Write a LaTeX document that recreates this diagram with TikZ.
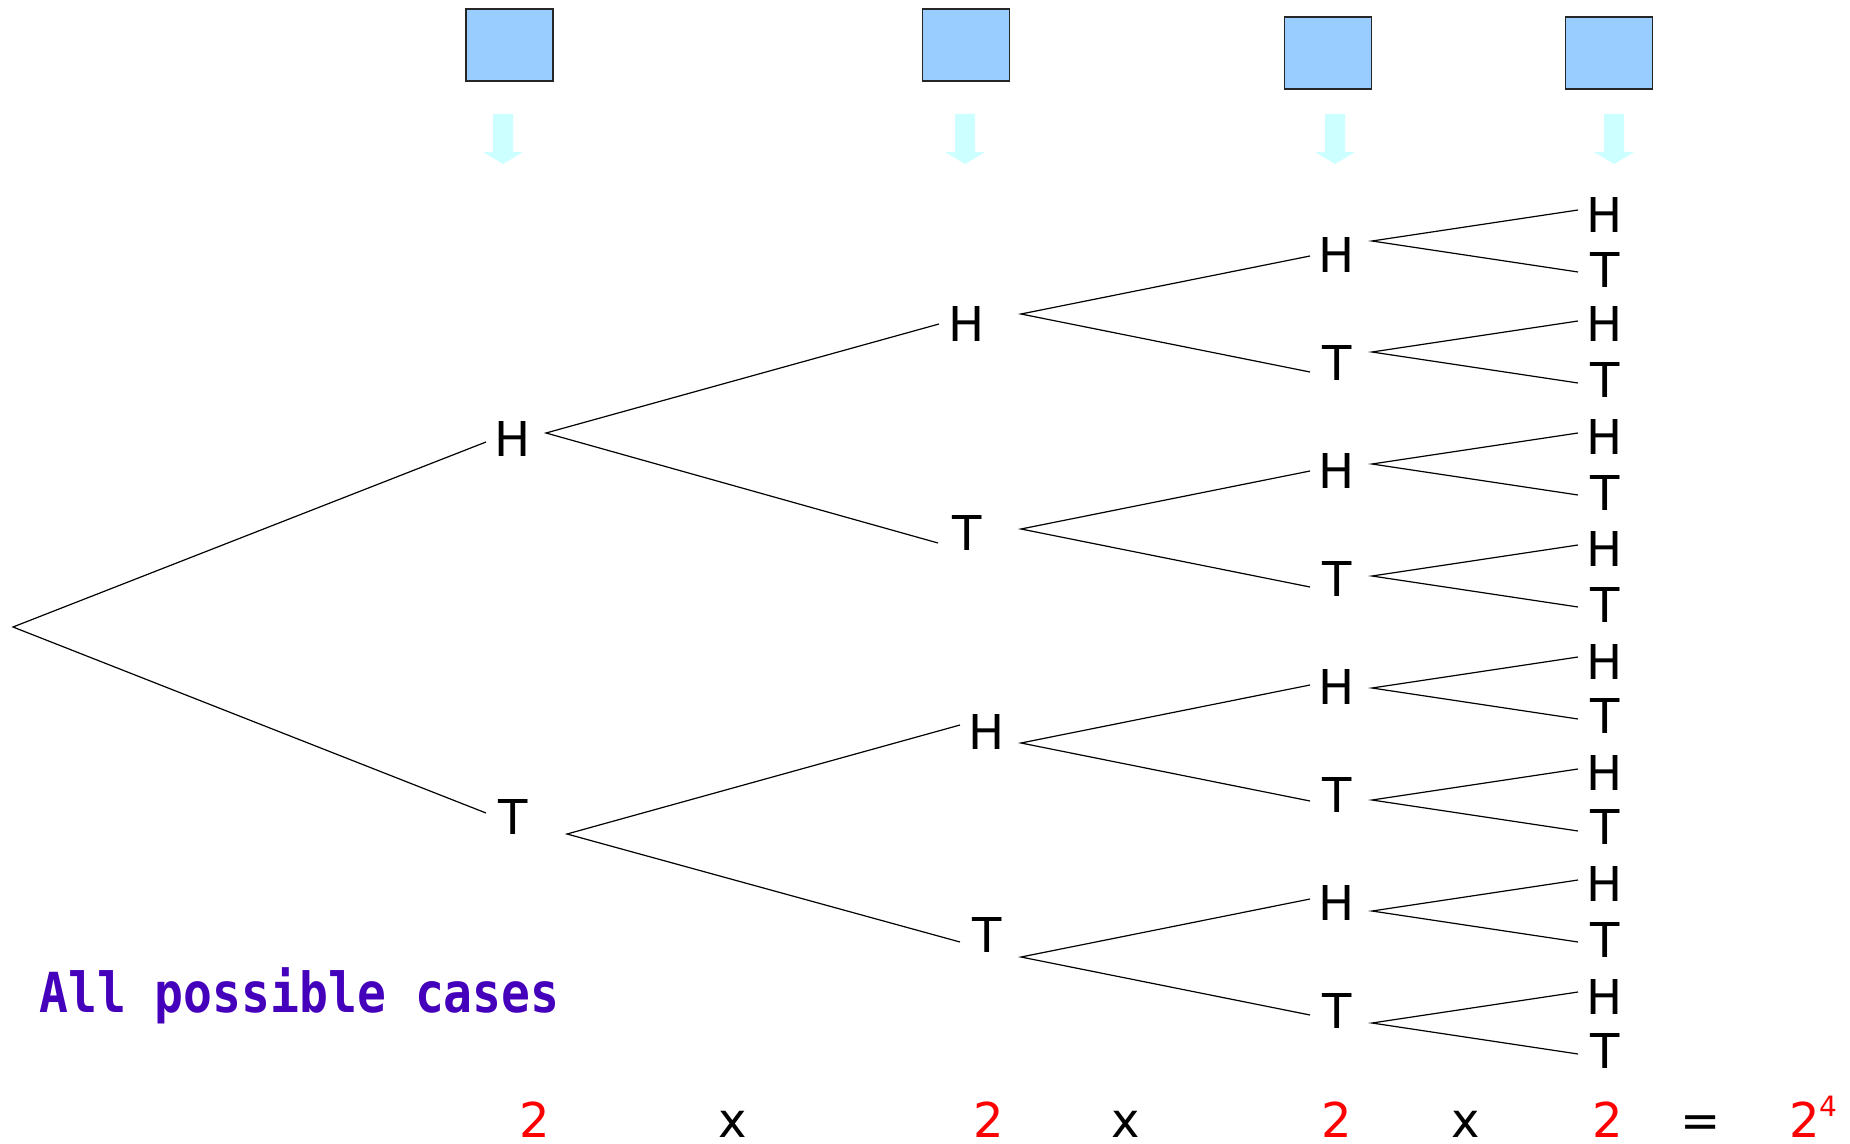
\documentclass[tikz,border=0pt]{standalone}
\usepackage{fontspec}
\setmainfont{DejaVu Sans}
\newfontfamily\titlemono{DejaVu Sans Mono}
\definecolor{coinblue}{HTML}{99CCFF}
\definecolor{arrowcyan}{HTML}{CCFFFF}
\definecolor{titlepurple}{HTML}{4400BB}
\definecolor{numred}{HTML}{FF0000}
\tikzset{
  lbl/.style={inner sep=0pt, font=\fontsize{24}{28}\selectfont},
  num/.style={inner sep=0pt, anchor=base, text=numred, font=\fontsize{24}{28}\selectfont},
  op/.style={inner sep=0pt, anchor=base, text=black, font=\fontsize{24}{28}\selectfont},
  coin/.style={draw=black!85, line width=0.7pt, fill=coinblue, minimum width=43.5pt, minimum height=36pt, inner sep=0pt},
  branch/.style={line width=0.6pt, black},
  downarrow/.style={fill=arrowcyan, draw=none}
}
\begin{document}
\begin{tikzpicture}[x=0.5pt,y=-0.5pt]
\useasboundingbox (0,0) rectangle (1850,1144);
% coins
\node[coin] (sq1) at (509.5,45) {};
\node[coin] (sq2) at (966,45) {};
\node[coin] (sq3) at (1328,53) {};
\node[coin] (sq4) at (1609,53) {};
% down arrows
\foreach \c in {503,965,1335,1614}{
  \fill[downarrow] (\c-10,114) -- (\c+10,114) -- (\c+10,152) -- (\c+20,152) -- (\c,164) -- (\c-20,152) -- (\c-10,152) -- cycle;
}
% root
\coordinate (r) at (13,627);
% level 1
\node[lbl] (a1) at (513,439) {H};
\node[lbl] (a2) at (513,817) {T};
\coordinate (a1i) at (486,442); \coordinate (a1o) at (546,433);
\coordinate (a2i) at (486,813); \coordinate (a2o) at (567,834);
% level 2
\node[lbl] (b1) at (967,324) {H};
\node[lbl] (b2) at (967,533) {T};
\node[lbl] (b3) at (987,732) {H};
\node[lbl] (b4) at (987,935) {T};
\coordinate (b1i) at (939,324); \coordinate (b1o) at (1021,314);
\coordinate (b2i) at (938,543); \coordinate (b2o) at (1021,529);
\coordinate (b3i) at (960,725); \coordinate (b3o) at (1021,743);
\coordinate (b4i) at (960,942); \coordinate (b4o) at (1021,957);
% level 3
\node[lbl] (c1) at (1337,255) {H};
\node[lbl] (c2) at (1337,363) {T};
\node[lbl] (c3) at (1337,471) {H};
\node[lbl] (c4) at (1337,579) {T};
\node[lbl] (c5) at (1337,687) {H};
\node[lbl] (c6) at (1337,795) {T};
\node[lbl] (c7) at (1337,903) {H};
\node[lbl] (c8) at (1337,1011) {T};
\foreach \n/\yi/\yo in {1/256/241,2/372/352,3/471/464,4/587/576,5/685/688,6/801/800,7/899/911,8/1015/1023}{
  \coordinate (c\n i) at (1310,\yi);
  \coordinate (c\n o) at (1372,\yo);
}
% level 4
\foreach \n/\t/\y in {1/H/215,2/T/270,3/H/324,4/T/380,5/H/437,6/T/493,7/H/549,8/T/605,9/H/662,10/T/716,11/H/773,12/T/827,13/H/884,14/T/940,15/H/997,16/T/1051}{
  \node[lbl] (d\n) at (1605,\y) {\t};
}
\foreach \n/\y in {1/210,2/272,3/321,4/383,5/433,6/495,7/545,8/607,9/657,10/719,11/769,12/831,13/880,14/942,15/992,16/1054}{
  \coordinate (d\n i) at (1578,\y);
}
% branches
\draw[branch] (a1i) -- (r) -- (a2i);
\draw[branch] (b1i) -- (a1o) -- (b2i);
\draw[branch] (b3i) -- (a2o) -- (b4i);
\draw[branch] (c1i) -- (b1o) -- (c2i);
\draw[branch] (c3i) -- (b2o) -- (c4i);
\draw[branch] (c5i) -- (b3o) -- (c6i);
\draw[branch] (c7i) -- (b4o) -- (c8i);
\draw[branch] (d1i) -- (c1o) -- (d2i);
\draw[branch] (d3i) -- (c2o) -- (d4i);
\draw[branch] (d5i) -- (c3o) -- (d6i);
\draw[branch] (d7i) -- (c4o) -- (d8i);
\draw[branch] (d9i) -- (c5o) -- (d10i);
\draw[branch] (d11i) -- (c6o) -- (d12i);
\draw[branch] (d13i) -- (c7o) -- (d14i);
\draw[branch] (d15i) -- (c8o) -- (d16i);
% title
\node[anchor=base west, inner sep=0pt, text=titlepurple, font=\titlemono\bfseries\fontsize{24}{28}\selectfont] (title) at (39,1012) {\scalebox{1}[1.15]{All possible cases}};
% bottom product
\node[num] (n1) at (535,1137) {2};
\node[op] (x1) at (733,1137) {x};
\node[num] (n2) at (989,1137) {2};
\node[op] (x2) at (1126,1137) {x};
\node[num] (n3) at (1337,1137) {2};
\node[op] (x3) at (1466,1137) {x};
\node[num] (n4) at (1608,1137) {2};
\node[op] (eq) at (1701,1137) {=};
\node[num] (n5) at (1805,1137) {2};
\node[num, font=\fontsize{14}{16}\selectfont] (e5) at (1828,1116) {4};
\end{tikzpicture}
\end{document}
